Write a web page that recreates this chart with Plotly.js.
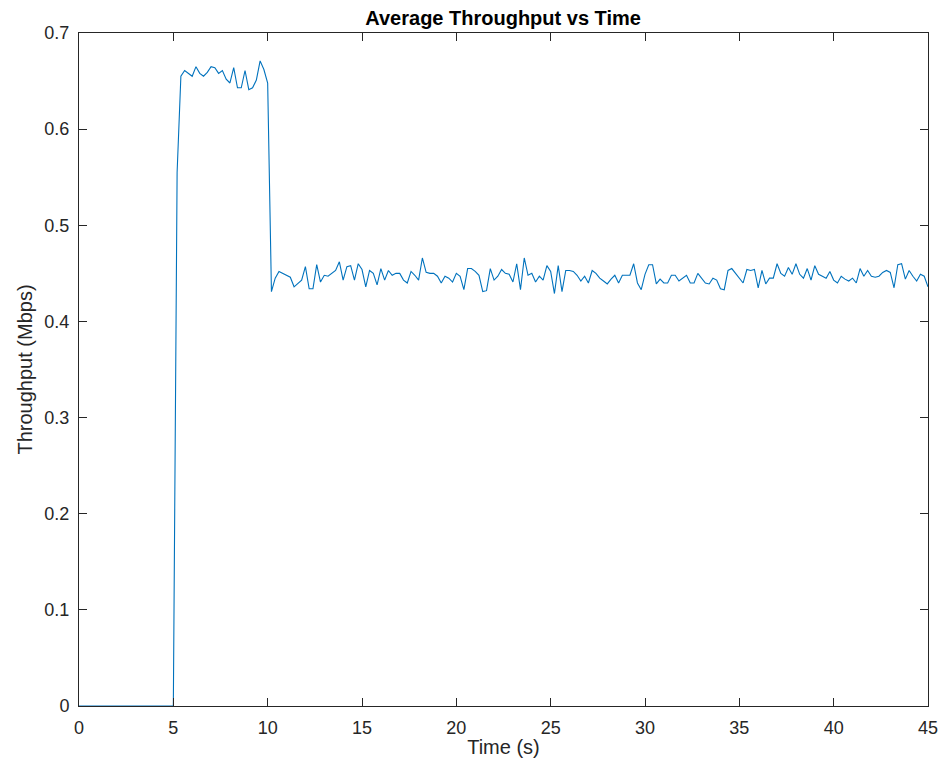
<!DOCTYPE html>
<html>
<head>
<meta charset="utf-8">
<script src="https://cdn.plot.ly/plotly-3.0.1.min.js"></script>
<style>
  html, body { margin: 0; padding: 0; background: #ffffff; }
  #chart { width: 943px; height: 765px; }
</style>
</head>
<body>
<div id="chart"></div>
<script>
// Time samples (s), every 0.2 s from 0 to 45
const timeSec = [
  0.0, 0.2, 0.4, 0.6, 0.8, 1.0, 1.2, 1.4, 1.6, 1.8,
  2.0, 2.2, 2.4, 2.6, 2.8, 3.0, 3.2, 3.4, 3.6, 3.8,
  4.0, 4.2, 4.4, 4.6, 4.8, 5.0, 5.2, 5.4, 5.6, 5.8,
  6.0, 6.2, 6.4, 6.6, 6.8, 7.0, 7.2, 7.4, 7.6, 7.8,
  8.0, 8.2, 8.4, 8.6, 8.8, 9.0, 9.2, 9.4, 9.6, 9.8,
  10.0, 10.2, 10.4, 10.6, 10.8, 11.0, 11.2, 11.4, 11.6, 11.8,
  12.0, 12.2, 12.4, 12.6, 12.8, 13.0, 13.2, 13.4, 13.6, 13.8,
  14.0, 14.2, 14.4, 14.6, 14.8, 15.0, 15.2, 15.4, 15.6, 15.8,
  16.0, 16.2, 16.4, 16.6, 16.8, 17.0, 17.2, 17.4, 17.6, 17.8,
  18.0, 18.2, 18.4, 18.6, 18.8, 19.0, 19.2, 19.4, 19.6, 19.8,
  20.0, 20.2, 20.4, 20.6, 20.8, 21.0, 21.2, 21.4, 21.6, 21.8,
  22.0, 22.2, 22.4, 22.6, 22.8, 23.0, 23.2, 23.4, 23.6, 23.8,
  24.0, 24.2, 24.4, 24.6, 24.8, 25.0, 25.2, 25.4, 25.6, 25.8,
  26.0, 26.2, 26.4, 26.6, 26.8, 27.0, 27.2, 27.4, 27.6, 27.8,
  28.0, 28.2, 28.4, 28.6, 28.8, 29.0, 29.2, 29.4, 29.6, 29.8,
  30.0, 30.2, 30.4, 30.6, 30.8, 31.0, 31.2, 31.4, 31.6, 31.8,
  32.0, 32.2, 32.4, 32.6, 32.8, 33.0, 33.2, 33.4, 33.6, 33.8,
  34.0, 34.2, 34.4, 34.6, 34.8, 35.0, 35.2, 35.4, 35.6, 35.8,
  36.0, 36.2, 36.4, 36.6, 36.8, 37.0, 37.2, 37.4, 37.6, 37.8,
  38.0, 38.2, 38.4, 38.6, 38.8, 39.0, 39.2, 39.4, 39.6, 39.8,
  40.0, 40.2, 40.4, 40.6, 40.8, 41.0, 41.2, 41.4, 41.6, 41.8,
  42.0, 42.2, 42.4, 42.6, 42.8, 43.0, 43.2, 43.4, 43.6, 43.8,
  44.0, 44.2, 44.4, 44.6, 44.8, 45.0
];

// Average throughput (Mbps)
const throughputMbps = [
  // 0.0 - 5.0 s
  0, 0, 0, 0, 0, 0, 0, 0, 0, 0, 0, 0, 0, 0, 0, 0, 0, 0, 0, 0, 0, 0, 0, 0, 0, 0,
  // 5.2 - 10.0 s
  0.555, 0.655, 0.661, 0.658, 0.655, 0.665, 0.658, 0.655, 0.659, 0.665,
  0.664, 0.658, 0.661, 0.652, 0.648, 0.664, 0.643, 0.643, 0.661, 0.641,
  0.643, 0.651, 0.671, 0.662, 0.648,
  // 10.2 - 15.6 s
  0.431, 0.445, 0.452, 0.450, 0.448, 0.446, 0.436, 0.440, 0.443, 0.457,
  0.434, 0.434, 0.459, 0.441, 0.448, 0.447, 0.450, 0.453, 0.462, 0.443,
  0.457, 0.458, 0.443, 0.460, 0.454, 0.436, 0.453, 0.450,
  // 15.8 - 21.4 s
  0.438, 0.455, 0.443, 0.453, 0.448, 0.450, 0.450, 0.443, 0.440, 0.452,
  0.448, 0.443, 0.466, 0.451, 0.450, 0.450, 0.447, 0.440, 0.447, 0.445,
  0.441, 0.450, 0.447, 0.433, 0.455, 0.455, 0.452, 0.448, 0.431,
  // 21.6 - 27.2 s
  0.432, 0.455, 0.443, 0.447, 0.454, 0.450, 0.449, 0.441, 0.460, 0.433,
  0.466, 0.448, 0.450, 0.441, 0.447, 0.443, 0.458, 0.452, 0.429, 0.458,
  0.431, 0.453, 0.453, 0.452, 0.448, 0.442, 0.447, 0.440, 0.453,
  // 27.4 - 33.2 s
  0.450, 0.445, 0.442, 0.439, 0.444, 0.448, 0.440, 0.448, 0.448, 0.448,
  0.460, 0.440, 0.433, 0.449, 0.459, 0.459, 0.439, 0.444, 0.440, 0.440,
  0.448, 0.448, 0.442, 0.445, 0.448, 0.440, 0.440, 0.450, 0.445, 0.440,
  // 33.4 - 39.0 s
  0.439, 0.445, 0.443, 0.434, 0.433, 0.453, 0.455, 0.450, 0.446, 0.440,
  0.454, 0.453, 0.454, 0.435, 0.453, 0.439, 0.445, 0.445, 0.460, 0.450,
  0.447, 0.456, 0.449, 0.460, 0.449, 0.445, 0.455, 0.443, 0.458,
  // 39.2 - 45.0 s
  0.449, 0.447, 0.445, 0.452, 0.443, 0.440, 0.447, 0.444, 0.442, 0.445,
  0.440, 0.455, 0.447, 0.453, 0.447, 0.446, 0.447, 0.451, 0.453, 0.451,
  0.435, 0.459, 0.460, 0.444, 0.453, 0.447, 0.442, 0.449, 0.447, 0.436
];

const xTicks = [0, 5, 10, 15, 20, 25, 30, 35, 40, 45];
const yTicks = [0, 0.1, 0.2, 0.3, 0.4, 0.5, 0.6, 0.7];

const axisColor = '#262626';
const fontFamily = 'Liberation Sans, Arial, Helvetica, sans-serif';

const trace = {
  x: timeSec,
  y: throughputMbps,
  type: 'scatter',
  mode: 'lines',
  line: { color: '#0072BD', width: 1.1 },
  hoverinfo: 'x+y'
};

const axisCommon = {
  showgrid: false,
  zeroline: false,
  showline: true,
  linecolor: axisColor,
  linewidth: 1,
  mirror: 'ticks',
  ticks: 'inside',
  ticklen: 8,
  tickwidth: 1,
  tickcolor: axisColor,
  tickfont: { family: fontFamily, size: 18, color: axisColor }
};

const layout = {
  width: 943,
  height: 765,
  paper_bgcolor: '#ffffff',
  plot_bgcolor: '#ffffff',
  margin: { l: 79, r: 15, t: 33, b: 59 },
  showlegend: false,
  title: {
    text: '<b>Average Throughput vs Time</b>',
    font: { family: fontFamily, size: 20, color: '#000000' },
    x: 0.5335, xanchor: 'center',
    y: 0.977, yanchor: 'middle'
  },
  xaxis: Object.assign({}, axisCommon, {
    range: [0, 45],
    tickvals: xTicks,
    ticktext: xTicks.map(String),
    ticklabelstandoff: 5,
    title: { text: 'Time (s)', font: { family: fontFamily, size: 20, color: axisColor }, standoff: 3 }
  }),
  yaxis: Object.assign({}, axisCommon, {
    range: [0, 0.7],
    tickvals: yTicks,
    ticktext: yTicks.map(String),
    ticklabelstandoff: 5,
    title: { text: 'Throughput (Mbps)', font: { family: fontFamily, size: 20, color: axisColor }, standoff: 6 }
  })
};

Plotly.newPlot('chart', [trace], layout, { displayModeBar: false, staticPlot: true });
</script>
</body>
</html>
